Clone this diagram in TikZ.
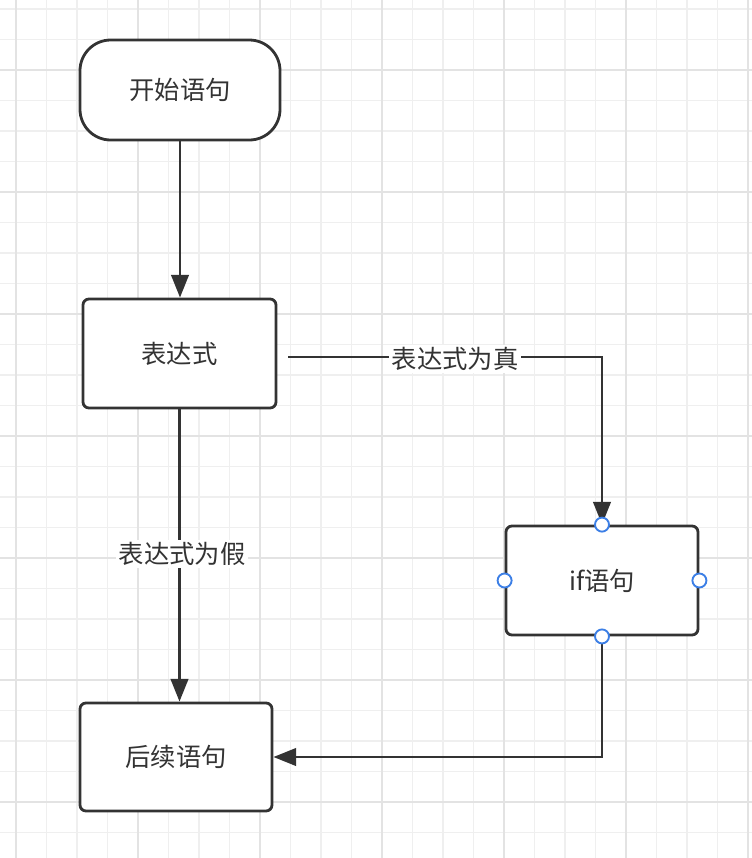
\documentclass[tikz,border=0pt]{standalone}
\usepackage{fontspec}
\setmainfont{Noto Sans CJK SC}
\usetikzlibrary{arrows.meta}
\definecolor{ink}{HTML}{333333}
\definecolor{gridminor}{HTML}{EFEFEF}
\definecolor{gridmajor}{HTML}{E3E3E3}
\definecolor{handle}{HTML}{3C7FE6}
\tikzset{
  boxbase/.style={draw=ink, line width=2.1pt, fill=white, text=ink, font=\fontsize{19}{22}\selectfont, inner sep=0pt},
  procbox/.style={boxbase, rounded corners=4.5pt},
  termbox/.style={boxbase, rounded corners=23pt},
  flow/.style={draw=ink, line width=2.2pt, -{Triangle[length=17pt,width=13pt]}},
  lbl/.style={fill=white, text=ink, font=\fontsize{19}{22}\selectfont, inner sep=2pt},
  hdl/.style={circle, draw=handle, line width=1.4pt, fill=white, minimum size=10.5pt, inner sep=0pt}
}
\begin{document}
\begin{tikzpicture}[x=0.75pt,y=-0.75pt]
\useasboundingbox (0,0) rectangle (752,858);
\fill[white] (0,0) rectangle (752,858);
% grid
\foreach \k in {0,...,24} {
  \draw[gridminor, line width=1.2pt] ({16+30.5*\k},0) -- ({16+30.5*\k},858);
}
\foreach \k in {0,...,27} {
  \draw[gridminor, line width=1.2pt] (0,{9+30.5*\k}) -- (752,{9+30.5*\k});
}
\foreach \k in {0,...,6} {
  \draw[gridmajor, line width=1.4pt] ({16+122*\k},0) -- ({16+122*\k},858);
}
\foreach \k in {0,...,6} {
  \draw[gridmajor, line width=1.4pt] (0,{70+122*\k}) -- (752,{70+122*\k});
}
% nodes
\node[termbox, minimum width=150pt, minimum height=75pt] (start) at (180,90) {开始语句};
\node[procbox, minimum width=144.75pt, minimum height=81.75pt] (expr) at (179.5,353.5) {表达式};
\node[procbox, minimum width=144pt, minimum height=81.75pt] (ifs) at (602,580.5) {if语句};
\node[procbox, minimum width=144pt, minimum height=81pt] (after) at (176,757) {后续语句};
% connectors
\coordinate (tstart) at (288,357);
\draw[flow] (start.south) -- (start.south |- expr.north);
\draw[flow] (expr.south) -- (expr.south |- after.north);
\draw[flow] (tstart) -- (tstart -| ifs.north) -- (ifs.north);
\draw[flow] (ifs.south) |- (after.east);
% labels
\node[lbl] (ltrue) at (455,359) {表达式为真};
\node[lbl] (lfalse) at (182,554) {表达式为假};
% handles
\node[hdl] (h1) at (ifs.north) {};
\node[hdl] (h2) at (ifs.south) {};
\node[hdl] (h3) at (ifs.west) {};
\node[hdl] (h4) at (ifs.east) {};
\end{tikzpicture}
\end{document}
